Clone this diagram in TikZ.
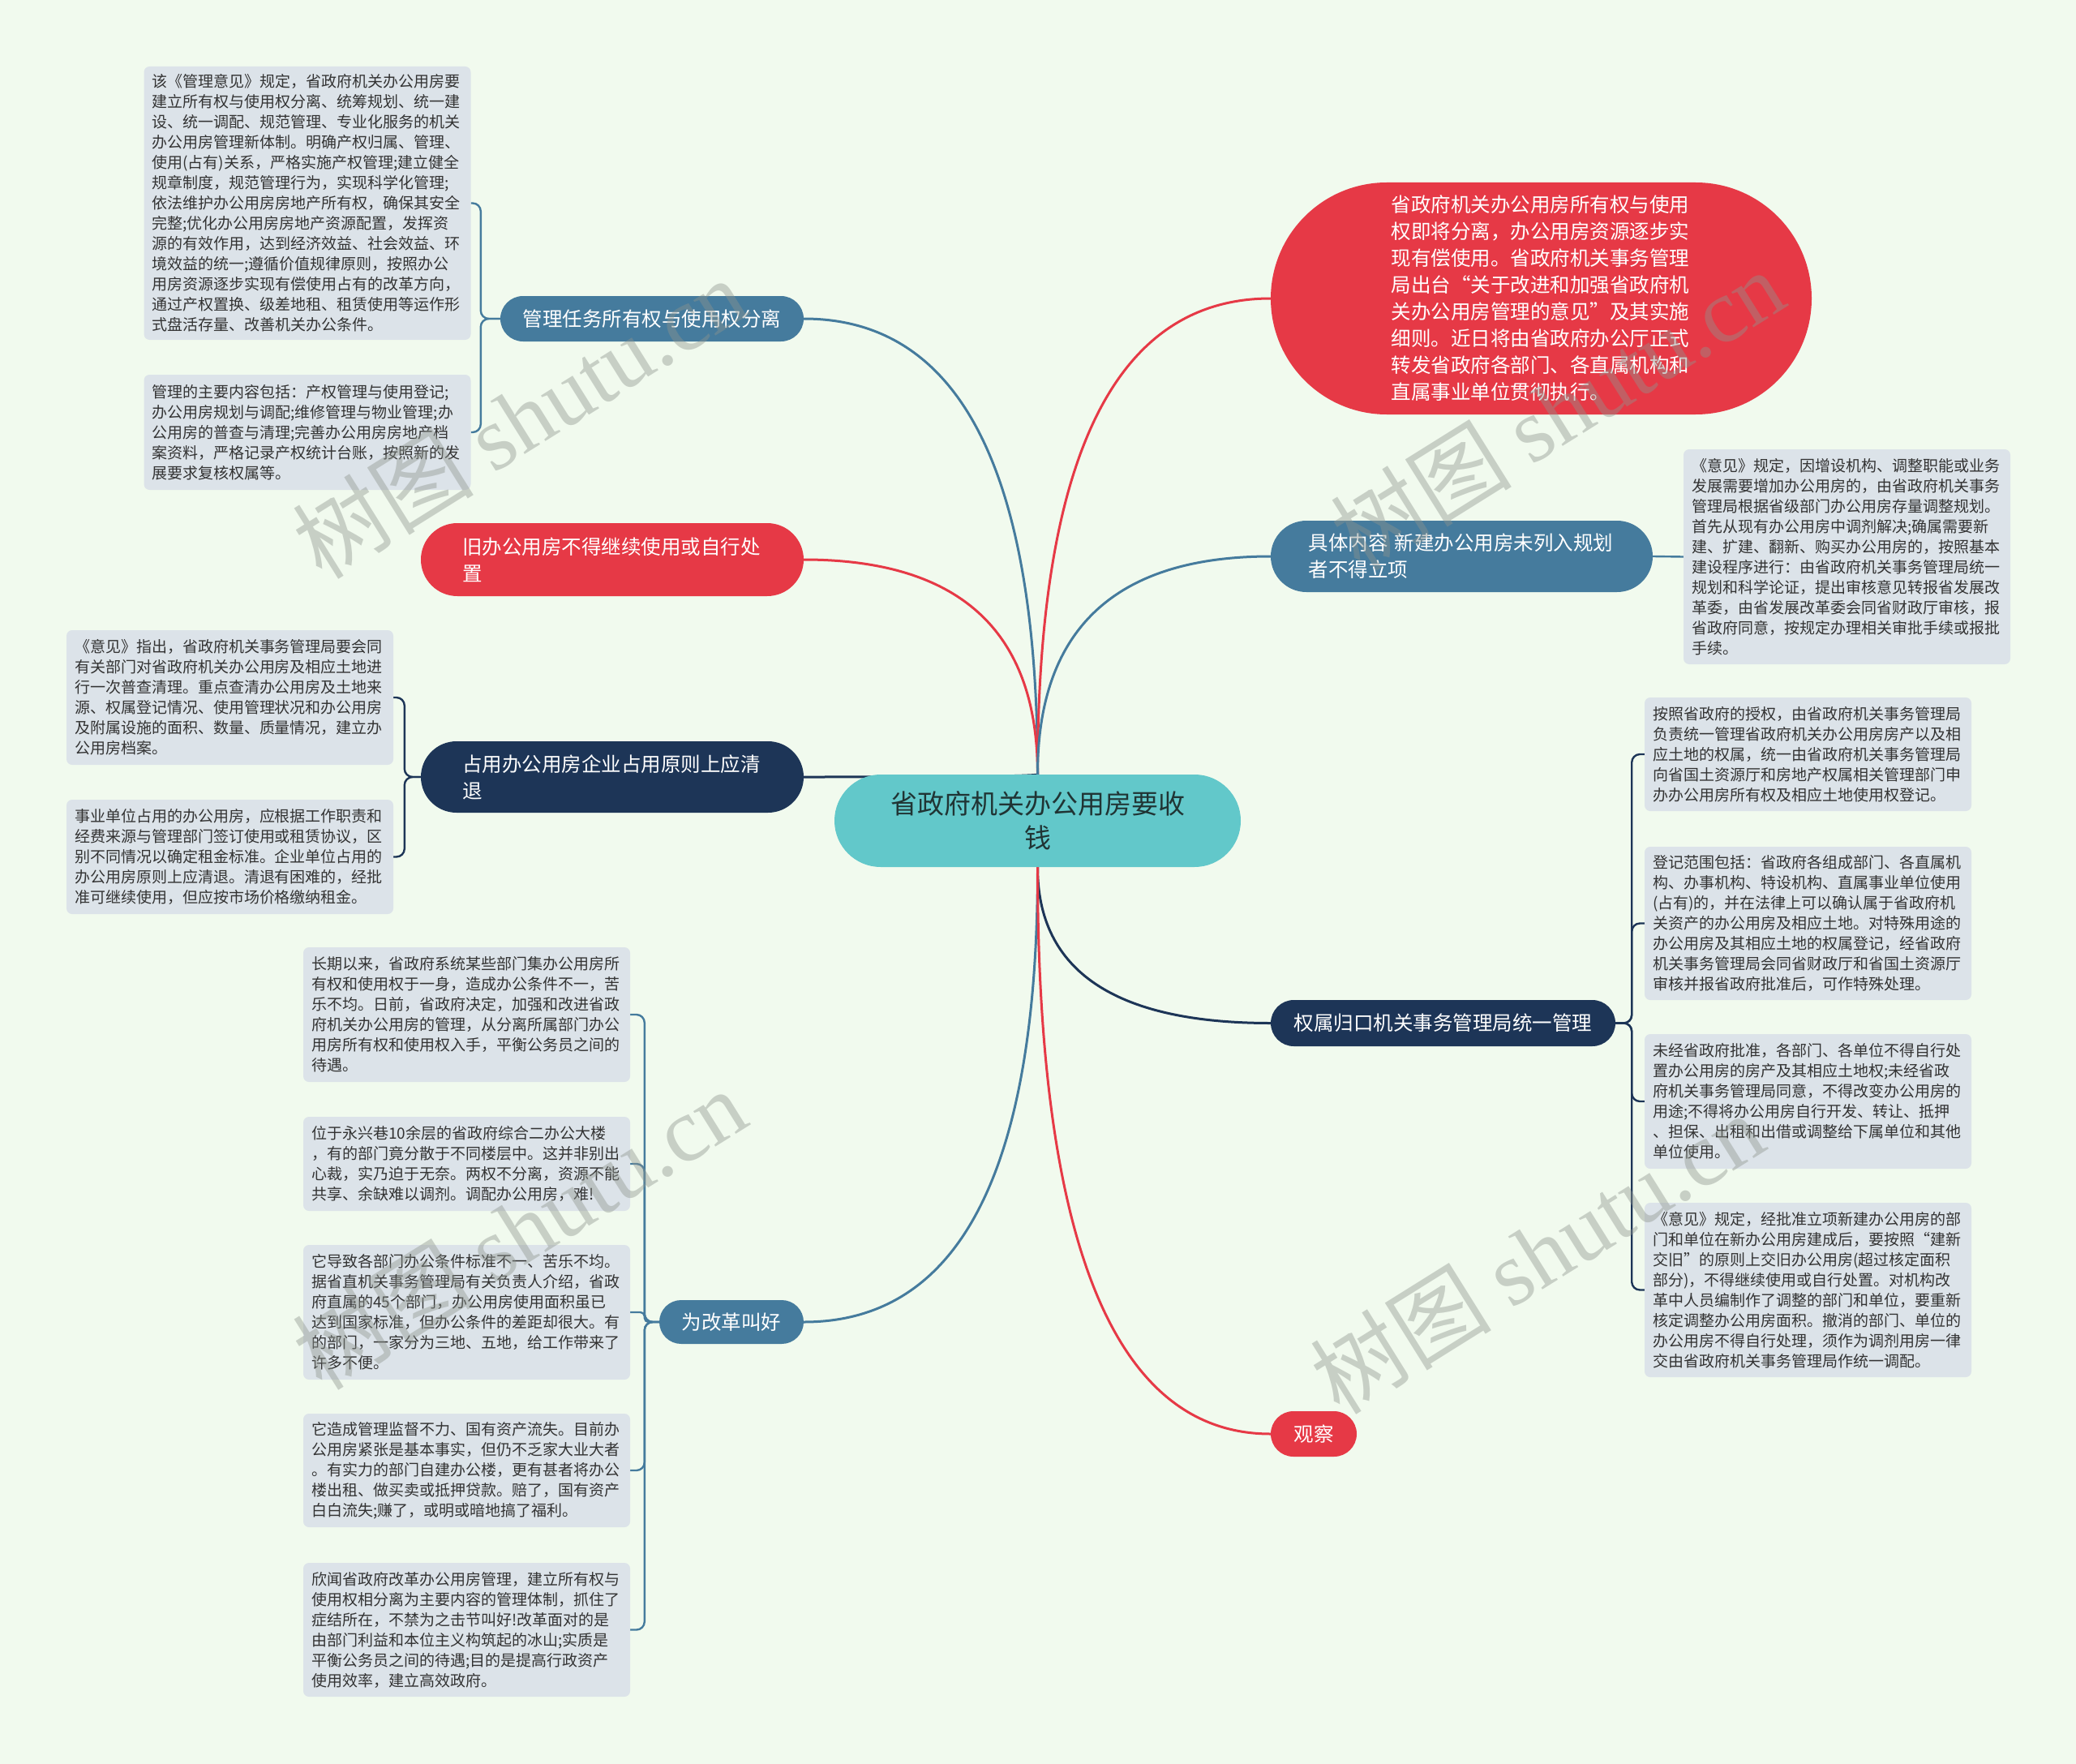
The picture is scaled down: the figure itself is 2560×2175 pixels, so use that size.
\documentclass[tikz,border=0pt]{standalone}
\usepackage{fontspec}
\setmainfont{Noto Sans CJK SC}
\newfontfamily\wmserif{Liberation Serif}
\usetikzlibrary{calc}
\definecolor{bgc}{HTML}{F1FAEE}
\definecolor{cred}{HTML}{E63946}
\definecolor{cblue}{HTML}{457B9D}
\definecolor{cnavy}{HTML}{1D3557}
\definecolor{cteal}{HTML}{62C8CA}
\definecolor{ctext}{HTML}{203434}
\definecolor{leafc}{HTML}{DCE3E9}
\definecolor{leaftxt}{HTML}{333333}
\definecolor{wmc}{HTML}{8E958E}
\pgfdeclarelayer{bglayer}
\pgfsetlayers{bglayer,main}
\newcommand\mmlink[4]{%
  \coordinate (#4) at (#2 |- #3);
  \draw[#1] (#2) .. controls ($(#2)!0.667!(#4)$) and ($(#3)!0.667!(#4)$) .. (#3);}
\tikzset{
  leafbox/.style={fill=leafc, rounded corners=7pt, text width=383pt, inner xsep=10pt, inner ysep=0pt, align=left, font=\fontsize{19}{25}\selectfont, text=leaftxt},
  pill/.style={inner sep=0pt, text=white, font=\fontsize{24.5}{33}\selectfont},
  mainline/.style={line width=3pt},
  leafline/.style={line width=2.4pt, rounded corners=10pt},
  wm/.style={text=wmc, opacity=0.42, font=\fontsize{112}{116}\selectfont, inner sep=0pt}
}
\begin{document}
\begin{tikzpicture}[x=1pt,y=-1pt]
\begin{pgfonlayer}{bglayer}
\fill[bgc] (0,0) rectangle (2560,2175);
\end{pgfonlayer}
\useasboundingbox (0,0) rectangle (2560,2175);

% central
\node[fill=cteal, minimum width=501pt, minimum height=114pt, rounded corners=57pt, inner sep=0pt, align=center, font=\fontsize{33}{42}\selectfont, text=ctext] (c) at (1279.5,1012) {省政府机关办公用房要收\\钱};

% branches
\node[pill, fill=cblue, minimum width=374pt, minimum height=56pt, rounded corners=28pt] (n1) at (804,393) {管理任务所有权与使用权分离};
\node[pill, fill=cred, minimum width=472pt, minimum height=90pt, rounded corners=45pt, text width=370pt, align=left] (n2) at (755,690) {旧办公用房不得继续使用或自行处\\置};
\node[pill, fill=cnavy, minimum width=472pt, minimum height=88pt, rounded corners=44pt, text width=370pt, align=left] (n3) at (755,958) {占用办公用房企业占用原则上应清\\退};
\node[pill, fill=cblue, minimum width=178pt, minimum height=54pt, rounded corners=27pt] (n4) at (902,1630) {为改革叫好};
\node[pill, fill=cred, minimum width=667pt, minimum height=286pt, rounded corners=143pt, text width=370pt, align=left] (n5) at (1900.5,368) {省政府机关办公用房所有权与使用\\权即将分离，办公用房资源逐步实\\现有偿使用。省政府机关事务管理\\局出台“关于改进和加强省政府机\\关办公用房管理的意见”及其实施\\细则。近日将由省政府办公厅正式\\转发省政府各部门、各直属机构和\\直属事业单位贯彻执行。};
\node[pill, fill=cblue, minimum width=471pt, minimum height=88pt, rounded corners=44pt, text width=378pt, align=left] (n6) at (1802.5,686) {具体内容 新建办公用房未列入规划\\者不得立项};
\node[pill, fill=cnavy, minimum width=425pt, minimum height=57pt, rounded corners=28.5pt] (n7) at (1779.5,1261.5) {权属归口机关事务管理局统一管理};
\node[pill, fill=cred, minimum width=106pt, minimum height=56pt, rounded corners=28pt] (n8) at (1620,1768) {观察};

% leaves left top
\node[leafbox, minimum height=337pt] (l1) at (379,250.5) {该《管理意见》规定，省政府机关办公用房要\\建立所有权与使用权分离、统筹规划、统一建\\设、统一调配、规范管理、专业化服务的机关\\办公用房管理新体制。明确产权归属、管理、\\使用(占有)关系，严格实施产权管理;建立健全\\规章制度，规范管理行为，实现科学化管理;\\依法维护办公用房房地产所有权，确保其安全\\完整;优化办公用房房地产资源配置，发挥资\\源的有效作用，达到经济效益、社会效益、环\\境效益的统一;遵循价值规律原则，按照办公\\用房资源逐步实现有偿使用占有的改革方向，\\通过产权置换、级差地租、租赁使用等运作形\\式盘活存量、改善机关办公条件。};
\node[leafbox, minimum height=142pt] (l2) at (379,533) {管理的主要内容包括：产权管理与使用登记;\\办公用房规划与调配;维修管理与物业管理;办\\公用房的普查与清理;完善办公用房房地产档\\案资料，严格记录产权统计台账，按照新的发\\展要求复核权属等。};
\node[leafbox, minimum height=166pt] (l3) at (283.5,860) {《意见》指出，省政府机关事务管理局要会同\\有关部门对省政府机关办公用房及相应土地进\\行一次普查清理。重点查清办公用房及土地来\\源、权属登记情况、使用管理状况和办公用房\\及附属设施的面积、数量、质量情况，建立办\\公用房档案。};
\node[leafbox, minimum height=141pt] (l4) at (283.5,1056.5) {事业单位占用的办公用房，应根据工作职责和\\经费来源与管理部门签订使用或租赁协议，区\\别不同情况以确定租金标准。企业单位占用的\\办公用房原则上应清退。清退有困难的，经批\\准可继续使用，但应按市场价格缴纳租金。};

% leaves bottom left
\node[leafbox, minimum height=166pt] (b1) at (575.5,1251) {长期以来，省政府系统某些部门集办公用房所\\有权和使用权于一身，造成办公条件不一，苦\\乐不均。日前，省政府决定，加强和改进省政\\府机关办公用房的管理，从分离所属部门办公\\用房所有权和使用权入手，平衡公务员之间的\\待遇。};
\node[leafbox, minimum height=116pt] (b2) at (575.5,1435) {位于永兴巷10余层的省政府综合二办公大楼\\，有的部门竟分散于不同楼层中。这并非别出\\心裁，实乃迫于无奈。两权不分离，资源不能\\共享、余缺难以调剂。调配办公用房，难!};
\node[leafbox, minimum height=166pt] (b3) at (575.5,1618) {它导致各部门办公条件标准不一、苦乐不均。\\据省直机关事务管理局有关负责人介绍，省政\\府直属的45个部门，办公用房使用面积虽已\\达到国家标准，但办公条件的差距却很大。有\\的部门，一家分为三地、五地，给工作带来了\\许多不便。};
\node[leafbox, minimum height=140pt] (b4) at (575.5,1813) {它造成管理监督不力、国有资产流失。目前办\\公用房紧张是基本事实，但仍不乏家大业大者\\。有实力的部门自建办公楼，更有甚者将办公\\楼出租、做买卖或抵押贷款。赔了，国有资产\\白白流失;赚了，或明或暗地搞了福利。};
\node[leafbox, minimum height=165pt] (b5) at (575.5,2009.5) {欣闻省政府改革办公用房管理，建立所有权与\\使用权相分离为主要内容的管理体制，抓住了\\症结所在，不禁为之击节叫好!改革面对的是\\由部门利益和本位主义构筑起的冰山;实质是\\平衡公务员之间的待遇;目的是提高行政资产\\使用效率，建立高效政府。};

% leaves right
\node[leafbox, minimum height=265pt] (r1) at (2277.5,686.5) {《意见》规定，因增设机构、调整职能或业务\\发展需要增加办公用房的，由省政府机关事务\\管理局根据省级部门办公用房存量调整规划。\\首先从现有办公用房中调剂解决;确属需要新\\建、扩建、翻新、购买办公用房的，按照基本\\建设程序进行：由省政府机关事务管理局统一\\规划和科学论证，提出审核意见转报省发展改\\革委，由省发展改革委会同省财政厅审核，报\\省政府同意，按规定办理相关审批手续或报批\\手续。};
\node[leafbox, minimum height=140pt] (r2) at (2229.5,930) {按照省政府的授权，由省政府机关事务管理局\\负责统一管理省政府机关办公用房房产以及相\\应土地的权属，统一由省政府机关事务管理局\\向省国土资源厅和房地产权属相关管理部门申\\办办公用房所有权及相应土地使用权登记。};
\node[leafbox, minimum height=189pt] (r3) at (2229.5,1138.5) {登记范围包括：省政府各组成部门、各直属机\\构、办事机构、特设机构、直属事业单位使用\\(占有)的，并在法律上可以确认属于省政府机\\关资产的办公用房及相应土地。对特殊用途的\\办公用房及其相应土地的权属登记，经省政府\\机关事务管理局会同省财政厅和省国土资源厅\\审核并报省政府批准后，可作特殊处理。};
\node[leafbox, minimum height=166pt] (r4) at (2229.5,1358) {未经省政府批准，各部门、各单位不得自行处\\置办公用房的房产及其相应土地权;未经省政\\府机关事务管理局同意，不得改变办公用房的\\用途;不得将办公用房自行开发、转让、抵押\\、担保、出租和出借或调整给下属单位和其他\\单位使用。};
\node[leafbox, minimum height=215pt] (r5) at (2229.5,1590.5) {《意见》规定，经批准立项新建办公用房的部\\门和单位在新办公用房建成后，要按照“建新\\交旧”的原则上交旧办公用房(超过核定面积\\部分)，不得继续使用或自行处置。对机构改\\革中人员编制作了调整的部门和单位，要重新\\核定调整办公用房面积。撤消的部门、单位的\\办公用房不得自行处理，须作为调剂用房一律\\交由省政府机关事务管理局作统一调配。};

\begin{pgfonlayer}{bglayer}
\mmlink{mainline,cblue}{c.north}{n1.east}{k1}
\mmlink{mainline,cred}{c.north}{n2.east}{k2}
\mmlink{mainline,cnavy}{c.north}{n3.east}{k3}
\mmlink{mainline,cblue}{c.south}{n4.east}{k4}
\mmlink{mainline,cred}{c.north}{n5.west}{k5}
\mmlink{mainline,cblue}{c.north}{n6.west}{k6}
\mmlink{mainline,cnavy}{c.south}{n7.west}{k7}
\mmlink{mainline,cred}{c.south}{n8.west}{k8}

\draw[leafline,cblue] (n1.west) -- ++(-24,0) |- (l1.east);
\draw[leafline,cblue] (n1.west) -- ++(-24,0) |- (l2.east);
\draw[leafline,cnavy] (n3.west) -- ++(-20,0) |- (l3.east);
\draw[leafline,cnavy] (n3.west) -- ++(-20,0) |- (l4.east);
\draw[leafline,cblue] (n4.west) -- ++(-18,0) |- (b1.east);
\draw[leafline,cblue] (n4.west) -- ++(-18,0) |- (b2.east);
\draw[leafline,cblue,rounded corners=5pt] (n4.west) -- ++(-18,0) |- (b3.east);
\draw[leafline,cblue] (n4.west) -- ++(-18,0) |- (b4.east);
\draw[leafline,cblue] (n4.west) -- ++(-18,0) |- (b5.east);
\draw[leafline,cblue] (n6.east) -- (r1.west);
\draw[leafline,cnavy] (n7.east) -- ++(20,0) |- (r2.west);
\draw[leafline,cnavy] (n7.east) -- ++(20,0) |- (r3.west);
\draw[leafline,cnavy] (n7.east) -- ++(20,0) |- (r4.west);
\draw[leafline,cnavy] (n7.east) -- ++(20,0) |- (r5.west);
\end{pgfonlayer}

% watermarks
\node[wm, rotate=32] (w1) at (640,515) {树图 {\wmserif shutu.cn}};
\node[wm, rotate=32] (w2) at (640,1515) {树图 {\wmserif shutu.cn}};
\node[wm, rotate=32] (w3) at (1920,505) {树图 {\wmserif shutu.cn}};
\node[wm, rotate=32] (w4) at (1895,1545) {树图 {\wmserif shutu.cn}};
\end{tikzpicture}
\end{document}
